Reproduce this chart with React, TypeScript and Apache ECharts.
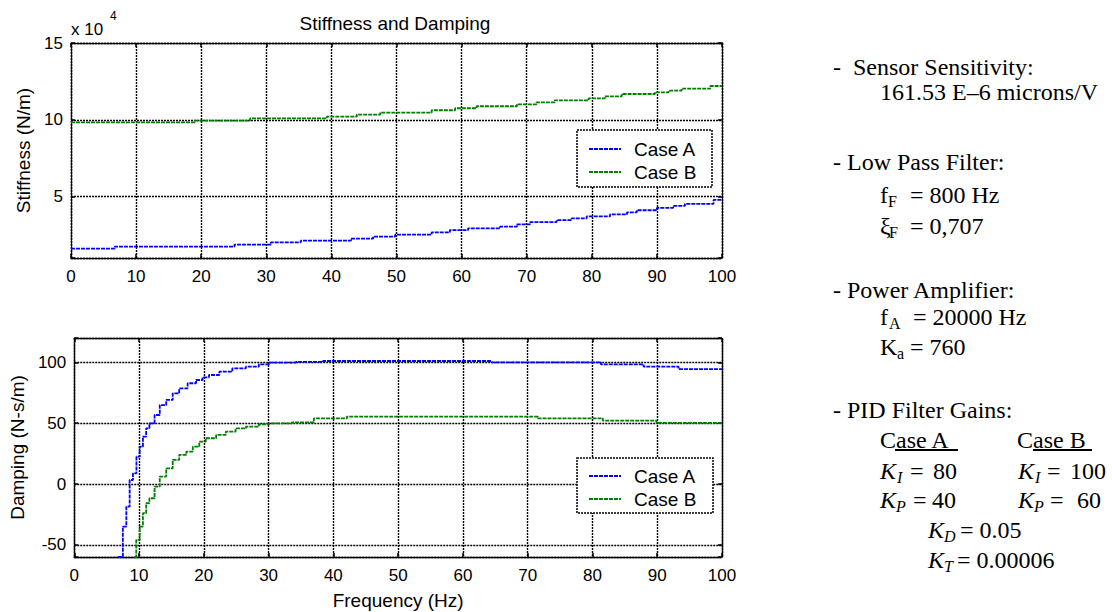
import React, { useEffect, useRef } from 'react';
import * as echarts from 'echarts';

// ---------- data ----------
const seriesNames = ['Case A', 'Case B'];
const seriesColors = ['#0000ff', '#008000'];

// Stiffness (x 10^4 N/m), step breakpoints [Hz, value]
const stiffnessA: [number, number][] = [
  [0, 1.61], [6.7, 1.74], [25.1, 1.87], [30.7, 2.02], [35.3, 2.13], [43, 2.26], [46.4, 2.39],
  [49.8, 2.52], [55.4, 2.67], [58.2, 2.82], [61, 2.93], [65.9, 3.04], [68.5, 3.19], [70.5, 3.34],
  [74.6, 3.47], [76.9, 3.58], [79.2, 3.71], [82.8, 3.84], [85.4, 3.97], [86.9, 4.11], [90, 4.26],
  [92.5, 4.39], [94.3, 4.52], [98.7, 4.78], [100, 4.78],
];
const stiffnessB: [number, number][] = [
  [0, 9.83], [19, 9.94], [27.5, 10.09], [39.3, 10.2], [43.9, 10.34], [47.5, 10.46], [55.4, 10.62],
  [59, 10.75], [62.3, 10.88], [68.5, 11.01], [71.5, 11.14], [74.3, 11.27], [79.5, 11.4], [82, 11.53],
  [84.6, 11.68], [89.7, 11.79], [91.8, 11.9], [93.8, 12.03], [98.2, 12.2], [100, 12.2],
];

// Damping (N-s/m), [Hz, value]
const dampingA: [number, number][] = [
  [6.76, -60], [7.5, -35], [8.04, -18.6], [8.55, 3.3], [9.06, 8.8], [9.6, 22.5], [10.1, 30.7],
  [10.6, 38.9], [11.1, 45.8], [11.6, 49.9], [12.4, 56.7], [13.2, 64.9], [14.2, 69.1], [15.2, 74.5],
  [16.2, 78.6], [17.5, 82.8], [18.8, 85.5], [19.8, 87.7], [20.8, 89.6], [22.4, 92.3], [24.4, 95.1],
  [26.5, 96.4], [28.5, 98.4], [30.1, 99.7], [34.2, 100.3], [38.4, 101.1], [64.4, 100], [81.3, 98.4],
  [87.9, 96.4], [93.3, 94.5], [100, 94.5],
];
const dampingB: [number, number][] = [
  [9.32, -60], [9.57, -46], [10.1, -35], [10.6, -24], [11.1, -15.8], [11.6, -11.7], [12.4, -2.2],
  [13.2, 6.1], [14.2, 12.9], [15.2, 19.8], [16.2, 23.9], [17.3, 26.6], [18.3, 30.7], [19.3, 34.8],
  [20.3, 37.6], [21.9, 40.3], [23.4, 43], [24.9, 45.8], [26.5, 47.1], [28.5, 49.1], [30.1, 49.9],
  [33.6, 50.7], [37, 54], [42.1, 55.4], [71.6, 54], [81.6, 52.1], [89.9, 50.2], [100, 50.2],
];

// axis ranges / tick labels
const freqRange = [0, 100];
const freqInterval = 10;
const stiffRange = [1, 15];
const stiffTickLabels = [5, 10, 15];
const dampRange = [-60, 120];
const dampTickLabels = [-50, 0, 50, 100];

const titleText = 'Stiffness and Damping';
const stiffName = 'Stiffness (N/m)';
const dampName = 'Damping (N-s/m)';
const freqName = 'Frequency (Hz)';

// ---------- styling ----------
const SANS = '"Liberation Sans", Arial, sans-serif';
const SERIF = '"Liberation Serif", "Times New Roman", serif';
const dotted = { color: '#000', width: 1.4, type: [2, 1] as number[] };

function txt(x: number, y: number, text: string, size = 24, italic = false, family = SERIF): any {
  return {
    type: 'text',
    x,
    y,
    z: 10,
    style: {
      text,
      fontSize: size,
      fontFamily: family,
      fontStyle: italic ? 'italic' : 'normal',
      fill: '#000',
      textAlign: 'left',
      textVerticalAlign: 'middle',
    },
  };
}

function gridAxes(grid: number, range: number[], labels: number[], name: string, nameGap: number, splitNumber: number) {
  const common = {
    gridIndex: grid,
    type: 'value',
    min: range[0],
    max: range[1],
    splitNumber,
    axisLine: { show: true, onZero: false, lineStyle: dotted },
    axisTick: { show: true, inside: true, length: 4, lineStyle: { color: '#000', width: 1.5 } },
  };
  return [
    {
      ...common,
      position: 'left',
      name,
      nameLocation: 'middle',
      nameGap,
      nameTextStyle: { fontSize: 19, fontFamily: SANS, color: '#000' },
      axisLabel: {
        fontSize: 17,
        fontFamily: SANS,
        color: '#000',
        margin: 8,
        formatter: (v: number) => (labels.includes(v) ? String(v) : ''),
      },
      splitLine: { show: true, lineStyle: dotted },
    },
    {
      ...common,
      position: 'right',
      axisLabel: { show: false },
      splitLine: { show: false },
    },
  ];
}

function freqAxes(grid: number, withName: boolean) {
  const common = {
    gridIndex: grid,
    type: 'value',
    min: freqRange[0],
    max: freqRange[1],
    interval: freqInterval,
    axisLine: { show: true, onZero: false, lineStyle: dotted },
    axisTick: { show: true, inside: true, length: 4, lineStyle: { color: '#000', width: 1.5 } },
  };
  return [
    {
      ...common,
      position: 'bottom',
      name: withName ? freqName : '',
      nameLocation: 'middle',
      nameGap: 34,
      nameTextStyle: { fontSize: 19, fontFamily: SANS, color: '#000' },
      axisLabel: { fontSize: 17, fontFamily: SANS, color: '#000', margin: 10 },
      splitLine: { show: true, lineStyle: dotted },
    },
    {
      ...common,
      position: 'top',
      axisLabel: { show: false },
      splitLine: { show: false },
    },
  ];
}

function lineSeries(name: string, color: string, data: [number, number][], xi: number, yi: number) {
  return {
    type: 'line',
    name,
    xAxisIndex: xi,
    yAxisIndex: yi,
    data,
    step: 'end',
    symbol: 'none',
    clip: true,
    z: 3,
    lineStyle: { color, width: 1.8, type: [4, 1] },
    itemStyle: { color },
  };
}

function legendAt(top: number) {
  return {
    data: seriesNames,
    orient: 'vertical',
    left: 588,
    top,
    padding: 0,
    itemWidth: 32,
    itemHeight: 10,
    itemGap: 3,
    selectedMode: false,
    itemStyle: { opacity: 0 },
    textStyle: { fontSize: 19, fontFamily: SANS, color: '#000', lineHeight: 20, padding: [0, 0, 0, 8] },
  };
}

export default function App() {
  const ref = useRef<HTMLDivElement>(null);
  useEffect(() => {
    if (!ref.current) return;
    const chart = echarts.init(ref.current, undefined, { renderer: 'svg' });

    const legendFrame = (x: number, y: number, w: number, h: number) => ({
      type: 'rect',
      z: 3,
      shape: { x, y, width: w, height: h },
      style: { fill: '#fff', stroke: '#000', lineWidth: 1.5, lineDash: [2, 1] },
    });

    const graphics: any[] = [
      {
        type: 'text', x: 395, y: 23, z: 10,
        style: { text: titleText, fontSize: 19, fontFamily: SANS, fill: '#000', textAlign: 'center', textVerticalAlign: 'middle' },
      },
      txt(71, 29, 'x 10', 17, false, SANS),
      txt(110, 16, '4', 12, false, SANS),
      legendFrame(577, 130, 135, 57),
      legendFrame(577, 458, 136, 55),
      // right-hand annotation block
      txt(833, 67, '-', 24),
      txt(853, 67, 'Sensor Sensitivity:', 24),
      txt(880, 92, '161.53 E\u20136 microns/V', 24),
      txt(833, 162, '- Low Pass Filter:', 24),
      txt(880, 195, 'f', 24), txt(888, 201, 'F', 16), txt(910, 195, '= 800 Hz', 24),
      txt(880, 226, '\u03be', 24), txt(889, 232, 'F', 16), txt(910, 226, '= 0,707', 24),
      txt(833, 290, '- Power Amplifier:', 24),
      txt(880, 317, 'f', 24), txt(889, 323, 'A', 16), txt(913, 317, '= 20000 Hz', 24),
      txt(880, 347, 'K', 24), txt(897, 353, 'a', 16), txt(910, 347, '= 760', 24),
      txt(833, 410, '- PID Filter Gains:', 24),
      txt(880, 440, 'Case A', 24), txt(1017, 440, 'Case B', 24),
      { type: 'line', z: 10, shape: { x1: 895, y1: 450, x2: 958, y2: 450 }, style: { stroke: '#000', lineWidth: 2 } },
      { type: 'line', z: 10, shape: { x1: 1033, y1: 450, x2: 1092, y2: 450 }, style: { stroke: '#000', lineWidth: 2 } },
      txt(880, 471, 'K', 24, true), txt(897, 477, 'I', 16, true), txt(910, 471, '=', 24), txt(933, 471, '80', 24),
      txt(1018, 471, 'K', 24, true), txt(1035, 477, 'I', 16, true), txt(1047, 471, '=', 24), txt(1070, 471, '100', 24),
      txt(880, 500, 'K', 24, true), txt(896, 506, 'P', 16, true), txt(913, 500, '=', 24), txt(932, 500, '40', 24),
      txt(1018, 500, 'K', 24, true), txt(1034, 506, 'P', 16, true), txt(1050, 500, '=', 24), txt(1077, 500, '60', 24),
      txt(928, 530, 'K', 24, true), txt(944, 536, 'D', 16, true), txt(960, 530, '= 0.05', 24),
      txt(928, 560, 'K', 24, true), txt(944, 566, 'T', 16, true), txt(957, 560, '= 0.00006', 24),
    ];

    chart.setOption({
      animation: false,
      backgroundColor: '#fff',
      grid: [
        { left: 71, top: 43, width: 651, height: 215 },
        { left: 71, top: 338, width: 651, height: 219 },
      ],
      xAxis: [...freqAxes(0, false), ...freqAxes(1, true)],
      yAxis: [
        ...gridAxes(0, stiffRange, stiffTickLabels, stiffName, 36, 3),
        ...gridAxes(1, dampRange, dampTickLabels, dampName, 46, 4),
      ],
      legend: [legendAt(139), legendAt(466)],
      series: [
        lineSeries(seriesNames[0], seriesColors[0], stiffnessA, 0, 0),
        lineSeries(seriesNames[1], seriesColors[1], stiffnessB, 0, 0),
        lineSeries(seriesNames[0], seriesColors[0], dampingA, 2, 2),
        lineSeries(seriesNames[1], seriesColors[1], dampingB, 2, 2),
      ],
      graphic: graphics,
    });
    return () => chart.dispose();
  }, []);

  return (
    <div
      ref={ref}
      style={{ position: 'fixed', left: 0, top: 0, width: 1112, height: 612, background: '#fff' }}
    />
  );
}
